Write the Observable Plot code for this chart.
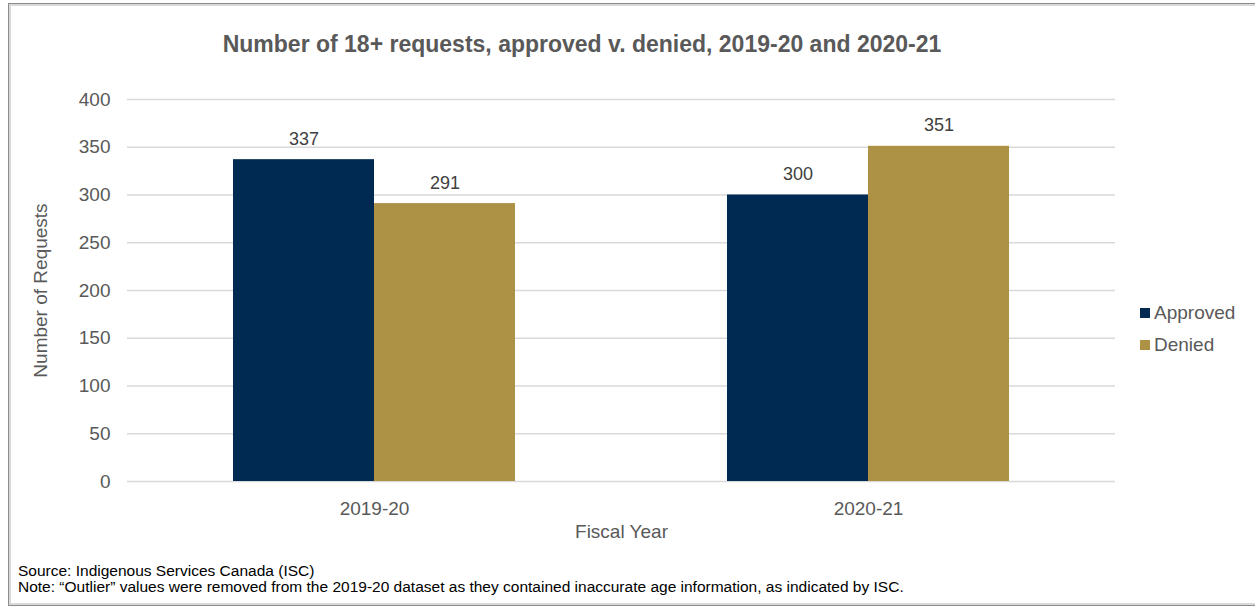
<!DOCTYPE html>
<html>
<head>
<meta charset="utf-8">
<script src="https://cdn.jsdelivr.net/npm/d3@7"></script>
<script src="https://cdn.jsdelivr.net/npm/@observablehq/plot@0.6"></script>
<style>
  body { margin: 0; background: #fff; }
  #wrap { position: relative; width: 1255px; height: 612px; overflow: hidden; font-family: "Liberation Sans", Arial, sans-serif; }
  #frame { position: absolute; left: 8px; top: 3px; width: 1250px; height: 603px; border: 1px solid #8c8c8c; box-shadow: inset 0 0 0 2px #d9d9d9; box-sizing: border-box; }
  #title { position: absolute; left: 0; width: 1164px; top: 31px; text-align: center; font-weight: bold; font-size: 23px; color: #595959; }
  #chart { position: absolute; left: 0; top: 0; }
  #legend { position: absolute; left: 1140px; top: 297px; font-size: 19px; color: #595959; }
  #legend div { display: flex; align-items: center; height: 32px; }
  #legend span.sw { display: inline-block; width: 10px; height: 10px; margin-right: 4px; }
  #caption { position: absolute; left: 18px; top: 563px; font-size: 15.5px; color: #000; line-height: 16px; }
</style>
</head>
<body>
<div id="wrap">
  <div id="frame"></div>
  <div id="chart"></div>
  <div id="title">Number of 18+ requests, approved v. denied, 2019-20 and 2020-21</div>
  <div id="legend"></div>
  <div id="caption"></div>
</div>
<script>
const years = ["2019-20", "2020-21"];
const seriesNames = ["Approved", "Denied"];
const approved = [337, 300];
const denied = [291, 351];
const colors = ["#012a52", "#ad9144"];
const yTicks = [0, 50, 100, 150, 200, 250, 300, 350, 400];
const captionLines = [
  "Source: Indigenous Services Canada (ISC)",
  "Note: \u201cOutlier\u201d values were removed from the 2019-20 dataset as they contained inaccurate age information, as indicated by ISC."
];

const data = [];
years.forEach((yr, i) => {
  data.push({year: yr, series: seriesNames[0], value: approved[i]});
  data.push({year: yr, series: seriesNames[1], value: denied[i]});
});

const chart = Plot.plot({
  width: 1255,
  height: 545,
  marginLeft: 127,
  marginRight: 140,
  marginTop: 99,
  marginBottom: 64,
  style: {fontFamily: "Liberation Sans, Arial, sans-serif", fontSize: "19px", color: "#595959", background: "transparent"},
  fx: {domain: years, padding: 0, label: "Fiscal Year", labelAnchor: "center", labelOffset: 56, tickSize: 0, tickPadding: 20},
  x: {domain: seriesNames, paddingInner: 0, paddingOuter: 0.75, axis: null},
  y: {domain: [0, 400], ticks: yTicks, tickSize: 0, tickPadding: 17, label: "Number of Requests", labelAnchor: "center", labelOffset: 94, labelArrow: "none"},
  color: {domain: seriesNames, range: colors},
  marks: [
    Plot.gridY(yTicks, {stroke: "#d9d9d9", strokeOpacity: 1, strokeWidth: 1.3}),
    Plot.barY(data, {fx: "year", x: "series", y: "value", fill: "series"}),
    Plot.text(data, {fx: "year", x: "series", y: "value", text: d => String(d.value), lineAnchor: "bottom", dy: -15, fontSize: 18, fill: "#404040"})
  ]
});
document.getElementById("chart").appendChild(chart);

const legend = document.getElementById("legend");
seriesNames.forEach((s, i) => {
  const row = document.createElement("div");
  const sw = document.createElement("span");
  sw.className = "sw";
  sw.style.background = colors[i];
  row.appendChild(sw);
  row.appendChild(document.createTextNode(s));
  legend.appendChild(row);
});
const cap = document.getElementById("caption");
captionLines.forEach(t => { const d = document.createElement("div"); d.textContent = t; cap.appendChild(d); });
</script>
</body>
</html>
